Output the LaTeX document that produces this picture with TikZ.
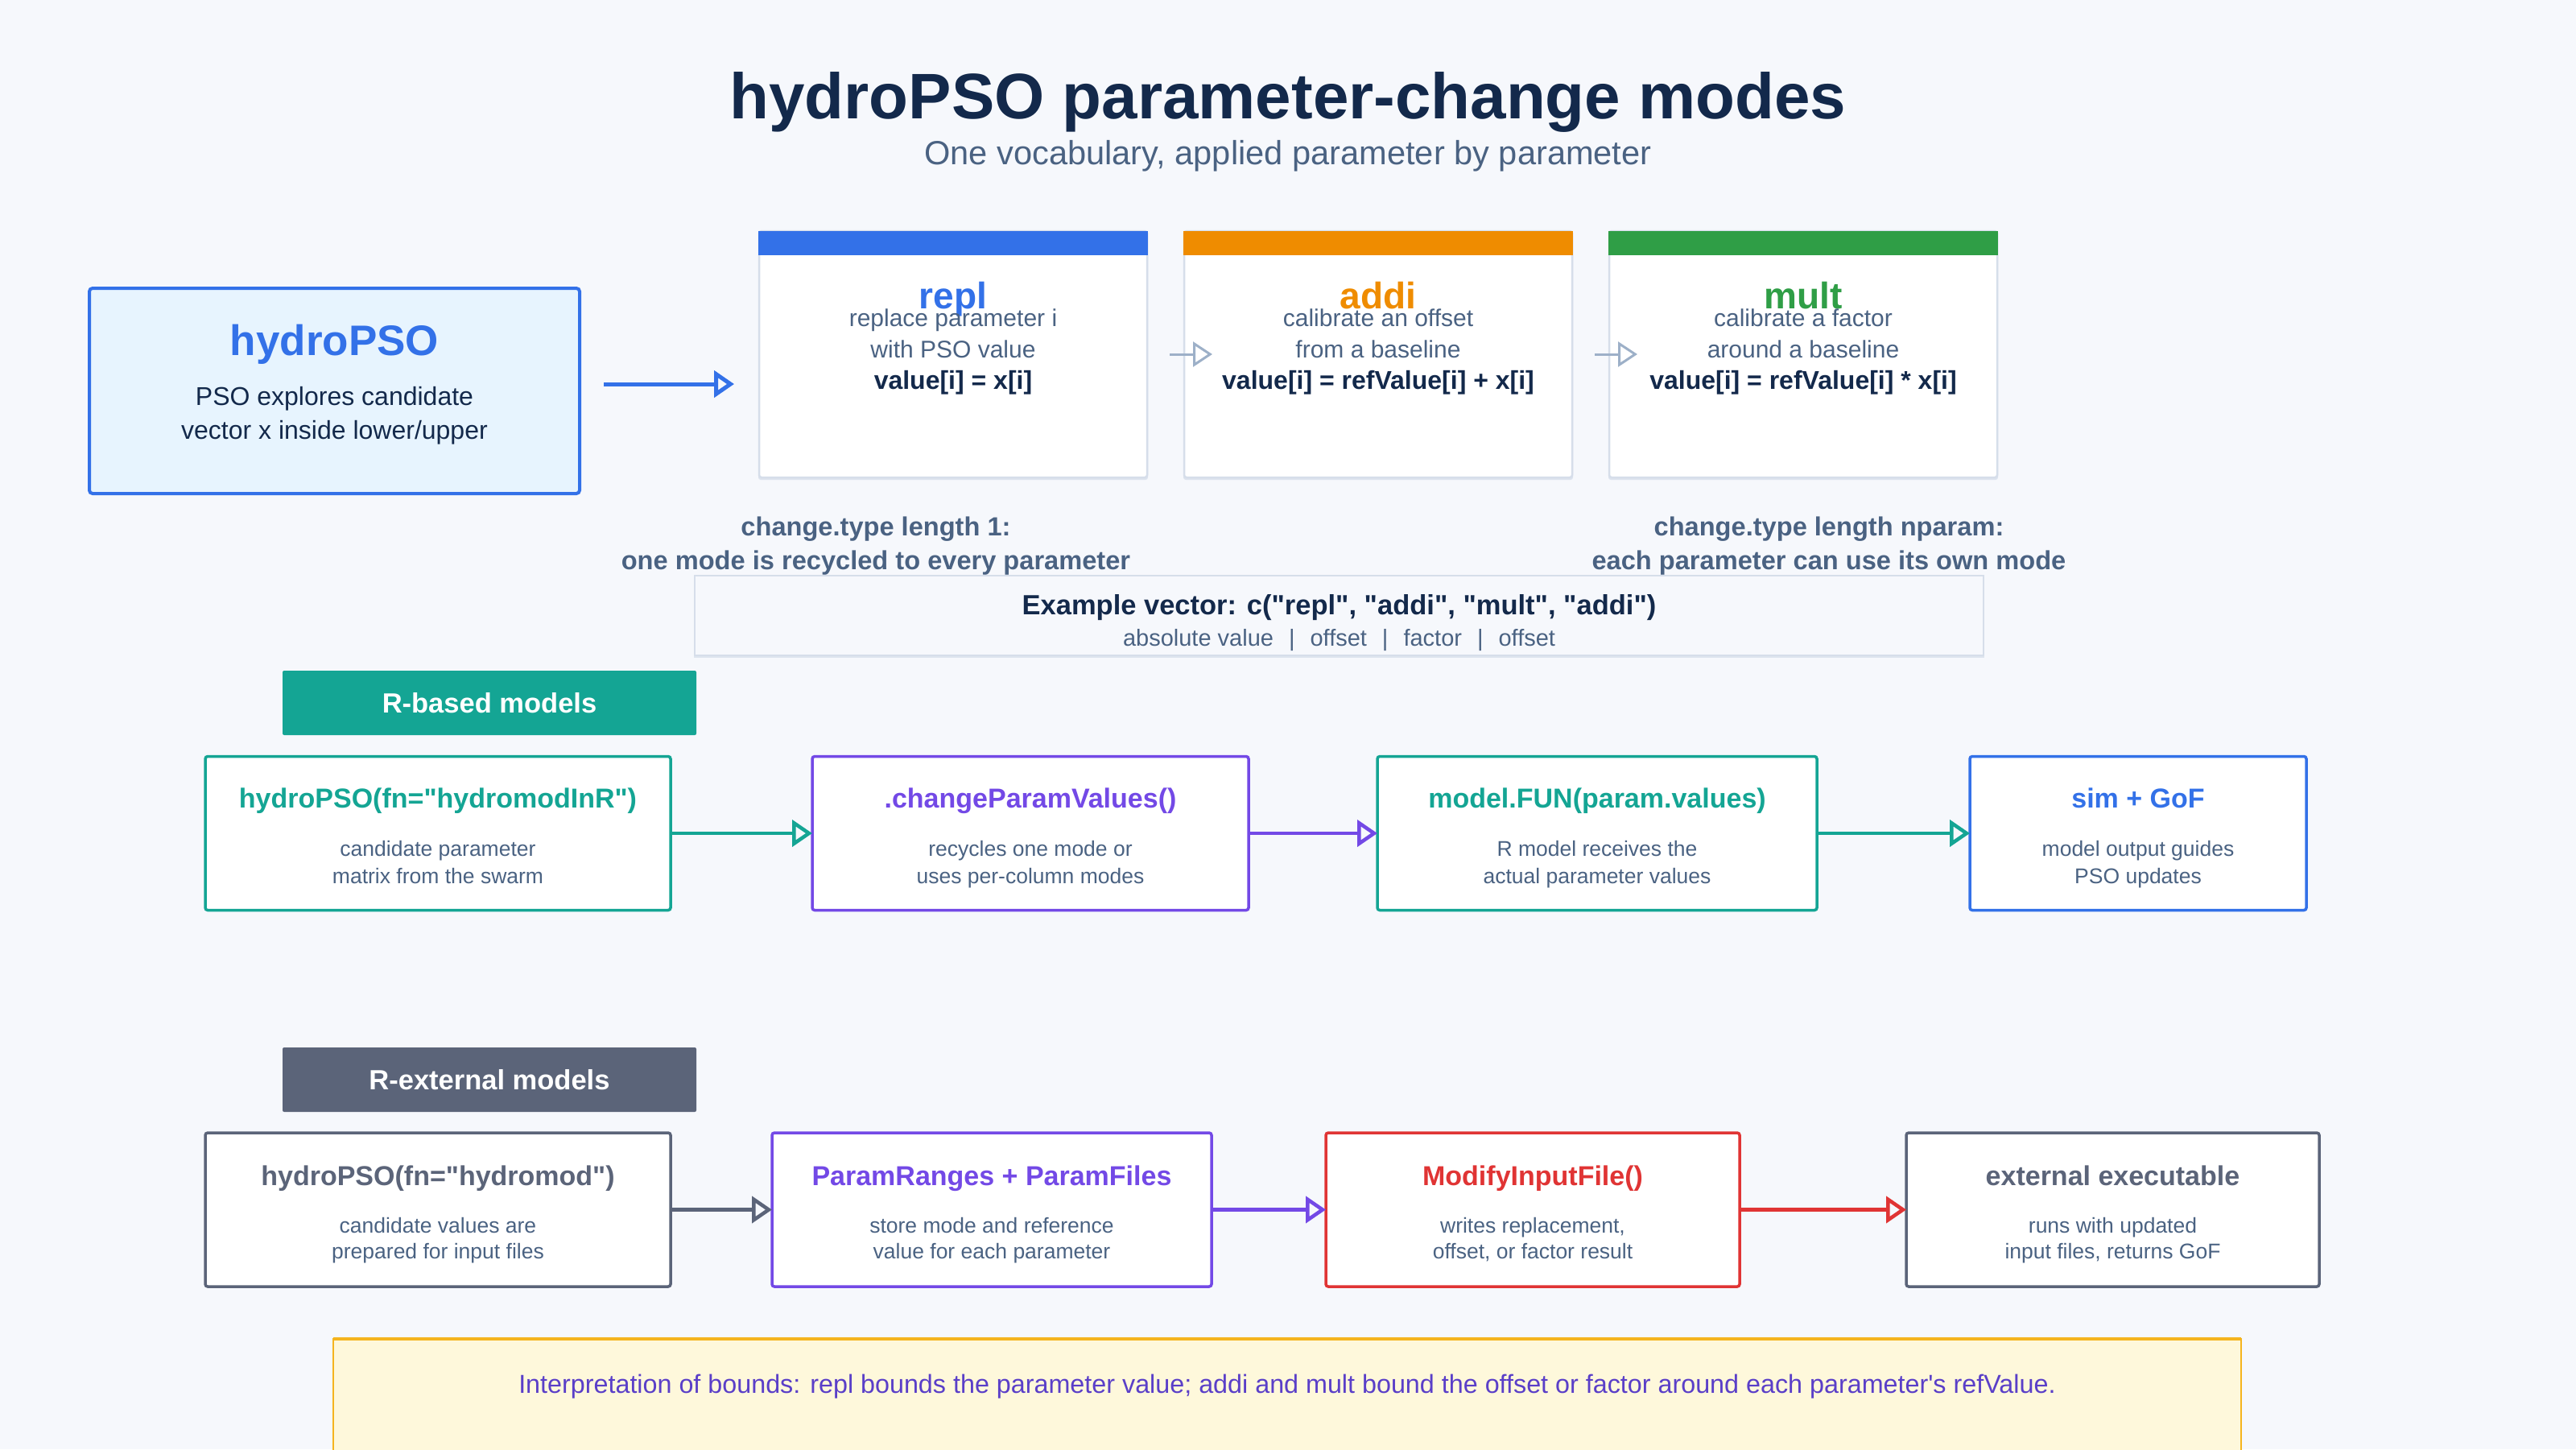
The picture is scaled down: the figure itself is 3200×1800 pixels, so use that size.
\documentclass[tikz,border=0pt]{standalone}
\usepackage{fontspec}
\setmainfont{Liberation Sans}[Ligatures=TeXOff]
\usetikzlibrary{arrows.meta,calc}
\definecolor{bg}{HTML}{F6F8FC}
\definecolor{navy}{HTML}{13294B}
\definecolor{slate}{HTML}{4A6282}
\definecolor{cblue}{HTML}{3371E8}
\definecolor{corange}{HTML}{EF8C00}
\definecolor{cgreen}{HTML}{2F9E46}
\definecolor{cteal}{HTML}{14A594}
\definecolor{cpurple}{HTML}{7349E6}
\definecolor{cred}{HTML}{E03434}
\definecolor{cgray}{HTML}{5B6479}
\definecolor{lightblue}{HTML}{E7F4FE}
\definecolor{cardline}{HTML}{D6DEEA}
\definecolor{cardshadow}{HTML}{DDE4EE}
\definecolor{arrowgray}{HTML}{9DB0C8}
\definecolor{notefill}{HTML}{FEF8DB}
\definecolor{noteline}{HTML}{F5B41E}
\definecolor{notetext}{HTML}{5A3FC8}
\newcommand\fsz[1]{\fontsize{#1pt}{#1pt}\selectfont}
\begin{document}
\begin{tikzpicture}[x=1pt,y=-1pt,
  txt/.style={anchor=base, inner sep=0pt, outer sep=0pt},
  flowbox/.style={draw=#1, fill=white, line width=3.5pt, rounded corners=3pt, minimum height=191pt, inner sep=0pt, outer sep=0pt},
  card/.style={draw=cardline, fill=white, line width=2.5pt, rounded corners=3pt, minimum width=482pt, minimum height=306pt, inner sep=0pt, outer sep=0pt},
  cardsh/.style={fill=cardshadow, rounded corners=3pt, minimum width=484pt, minimum height=306pt, inner sep=0pt, outer sep=0pt},
  seclabel/.style={fill=#1, rounded corners=2pt, minimum width=514pt, minimum height=80pt, inner sep=0pt, outer sep=0pt},
  flow/.style={draw=#1, line width=4.5pt, -{Triangle[open, length=25pt, width=33pt]}},
  modearrow/.style={draw=arrowgray, line width=3pt, -{Triangle[open, length=24pt, width=31pt]}},
  boxtitle/.style={txt, font=\bfseries\fsz{34}, text=#1},
  boxdesc/.style={txt, font=\fsz{26.5}, text=slate},
  cardtitle/.style={txt, font=\bfseries\fsz{46}, text=#1},
  carddesc/.style={txt, font=\fsz{30}, text=slate},
  cardform/.style={txt, font=\bfseries\fsz{32}, text=navy},
  notehead/.style={txt, font=\bfseries\fsz{32.6}, text=slate}
]
\fill[bg] (0,0) rectangle (3200,1800);
\useasboundingbox (0,0) rectangle (3200,1800);

% title
\node[txt, font=\bfseries\fsz{80}, text=navy] (title) at (1600,147) {hydroPSO parameter-change modes};
\node[txt, font=\fsz{41.6}, text=slate] (subtitle) at (1600,204) {One vocabulary, applied parameter by parameter};

% hydroPSO box
\node[draw=cblue, fill=lightblue, line width=4pt, rounded corners=4pt, minimum width=609pt, minimum height=255pt, inner sep=0pt, outer sep=0pt] (hp) at (415.5,485.5) {};
\node[txt, font=\bfseries\fsz{53}, text=cblue] (hpt) at (415.5,441) {hydroPSO};
\node[txt, font=\fsz{32}, text=navy] (hpd1) at (415.5,503) {PSO explores candidate};
\node[txt, font=\fsz{32}, text=navy] (hpd2) at (415.5,545) {vector x inside lower/upper};

% mode cards
\node[cardsh] (replsh) at (1184,443) {};
\node[cardsh] (addish) at (1712,443) {};
\node[cardsh] (multsh) at (2240,443) {};
\node[card] (repl) at (1184,440) {};
\node[card] (addi) at (1712,440) {};
\node[card] (mult) at (2240,440) {};
\fill[cblue] ($(repl.north west)+(-1,0)$) rectangle ($(repl.north east)+(1,30)$);
\fill[corange] ($(addi.north west)+(-1,0)$) rectangle ($(addi.north east)+(1,30)$);
\fill[cgreen] ($(mult.north west)+(-1,0)$) rectangle ($(mult.north east)+(1,30)$);

\node[cardtitle=cblue] (replt) at (1184,383) {repl};
\node[carddesc] (repld1) at (1184,405) {replace parameter i};
\node[carddesc] (repld2) at (1184,444) {with PSO value};
\node[cardform] (replf) at (1184,483) {value[i] = x[i]};

\node[cardtitle=corange] (addit) at (1712,383) {addi};
\node[carddesc] (addid1) at (1712,405) {calibrate an offset};
\node[carddesc] (addid2) at (1712,444) {from a baseline};
\node[cardform] (addif) at (1712,483) {value[i] = refValue[i] + x[i]};

\node[cardtitle=cgreen] (multt) at (2240,383) {mult};
\node[carddesc] (multd1) at (2240,405) {calibrate a factor};
\node[carddesc] (multd2) at (2240,444) {around a baseline};
\node[cardform] (multf) at (2240,483) {value[i] = refValue[i] * x[i]};

\draw[flow=cblue, line width=5pt] ($(hp.east)+(30,-8.5)$) -- ($(repl.west)+(-31,37)$);
\draw[modearrow] ([xshift=28pt]repl.east) -- ([xshift=35pt]addi.west);
\draw[modearrow] ([xshift=28pt]addi.east) -- ([xshift=35pt]mult.west);

% change.type notes
\node[notehead] (ct1a) at (1088,665) {change.type length 1:};
\node[notehead] (ct1b) at (1088,707) {one mode is recycled to every parameter};
\node[notehead] (ctna) at (2272,665) {change.type length nparam:};
\node[notehead] (ctnb) at (2272,707) {each parameter can use its own mode};

% example vector
\node[fill=cardshadow, minimum width=1603pt, minimum height=99pt, inner sep=0pt, outer sep=0pt] (exsh) at (1663.5,767.5) {};
\node[draw=cardline, fill=bg, line width=2.5pt, minimum width=1601pt, minimum height=99pt, inner sep=0pt, outer sep=0pt] (ex) at (1663.5,764.5) {};
\node[txt, font=\bfseries\fsz{34.5}, text=navy] (ext) at (1663.5,763) {Example vector: c("repl", "addi", "mult", "addi")};
\node[txt, font=\fsz{29}, text=slate] (exd) at (1663.5,802) {absolute value\hspace{19pt}|\hspace{19pt}offset\hspace{19pt}|\hspace{19pt}factor\hspace{19pt}|\hspace{19pt}offset};

% R-based models
\node[seclabel=cteal] (rb) at (608,873) {};
\node[txt, font=\bfseries\fsz{34.5}, text=white] (rbt) at (608,885) {R-based models};

\node[flowbox=cteal, minimum width=578pt] (b1) at (544,1035) {};
\node[flowbox=cpurple, minimum width=542pt] (b2) at (1280,1035) {};
\node[flowbox=cteal, minimum width=546pt] (b3) at (1984,1035) {};
\node[flowbox=cblue, minimum width=418pt] (b4) at (2656,1035) {};

\node[boxtitle=cteal] (b1t) at (544,1003) {hydroPSO(fn="hydromodInR")};
\node[boxdesc] (b1d1) at (544,1063) {candidate parameter};
\node[boxdesc] (b1d2) at (544,1097) {matrix from the swarm};
\node[boxtitle=cpurple] (b2t) at (1280,1003) {.changeParamValues()};
\node[boxdesc] (b2d1) at (1280,1063) {recycles one mode or};
\node[boxdesc] (b2d2) at (1280,1097) {uses per-column modes};
\node[boxtitle=cteal] (b3t) at (1984,1003) {model.FUN(param.values)};
\node[boxdesc] (b3d1) at (1984,1063) {R model receives the};
\node[boxdesc] (b3d2) at (1984,1097) {actual parameter values};
\node[boxtitle=cblue] (b4t) at (2656,1003) {sim + GoF};
\node[boxdesc] (b4d1) at (2656,1063) {model output guides};
\node[boxdesc] (b4d2) at (2656,1097) {PSO updates};

\draw[flow=cteal] (b1.east) -- (b2.west);
\draw[flow=cpurple] (b2.east) -- (b3.west);
\draw[flow=cteal] (b3.east) -- (b4.west);

% R-external models
\node[seclabel=cgray] (rx) at (608,1341) {};
\node[txt, font=\bfseries\fsz{34.5}, text=white] (rxt) at (608,1353) {R-external models};

\node[flowbox=cgray, minimum width=578pt] (c1) at (544,1502.5) {};
\node[flowbox=cpurple, minimum width=546pt] (c2) at (1232,1502.5) {};
\node[flowbox=cred, minimum width=514pt] (c3) at (1904,1502.5) {};
\node[flowbox=cgray, minimum width=513pt] (c4) at (2624.5,1502.5) {};

\node[boxtitle=cgray] (c1t) at (544,1472) {hydroPSO(fn="hydromod")};
\node[boxdesc] (c1d1) at (544,1531) {candidate values are};
\node[boxdesc] (c1d2) at (544,1563) {prepared for input files};
\node[boxtitle=cpurple] (c2t) at (1232,1472) {ParamRanges + ParamFiles};
\node[boxdesc] (c2d1) at (1232,1531) {store mode and reference};
\node[boxdesc] (c2d2) at (1232,1563) {value for each parameter};
\node[boxtitle=cred] (c3t) at (1904,1472) {ModifyInputFile()};
\node[boxdesc] (c3d1) at (1904,1531) {writes replacement,};
\node[boxdesc] (c3d2) at (1904,1563) {offset, or factor result};
\node[boxtitle=cgray] (c4t) at (2624.5,1472) {external executable};
\node[boxdesc] (c4d1) at (2624.5,1531) {runs with updated};
\node[boxdesc] (c4d2) at (2624.5,1563) {input files, returns GoF};

\draw[flow=cgray] (c1.east) -- (c2.west);
\draw[flow=cpurple] (c2.east) -- (c3.west);
\draw[flow=cred] (c3.east) -- (c4.west);

% note
\node[draw=noteline, fill=notefill, line width=2pt, minimum width=2370pt, minimum height=180pt, anchor=north west, inner sep=0pt, outer sep=0pt] (note) at (414,1663) {};
\draw[noteline, line width=4pt] (note.north west) -- (note.north east);
\node[txt, font=\fsz{32.3}, text=notetext] (notet) at (1599,1730) {Interpretation of bounds: repl bounds the parameter value; addi and mult bound the offset or factor around each parameter's refValue.};
\end{tikzpicture}
\end{document}
